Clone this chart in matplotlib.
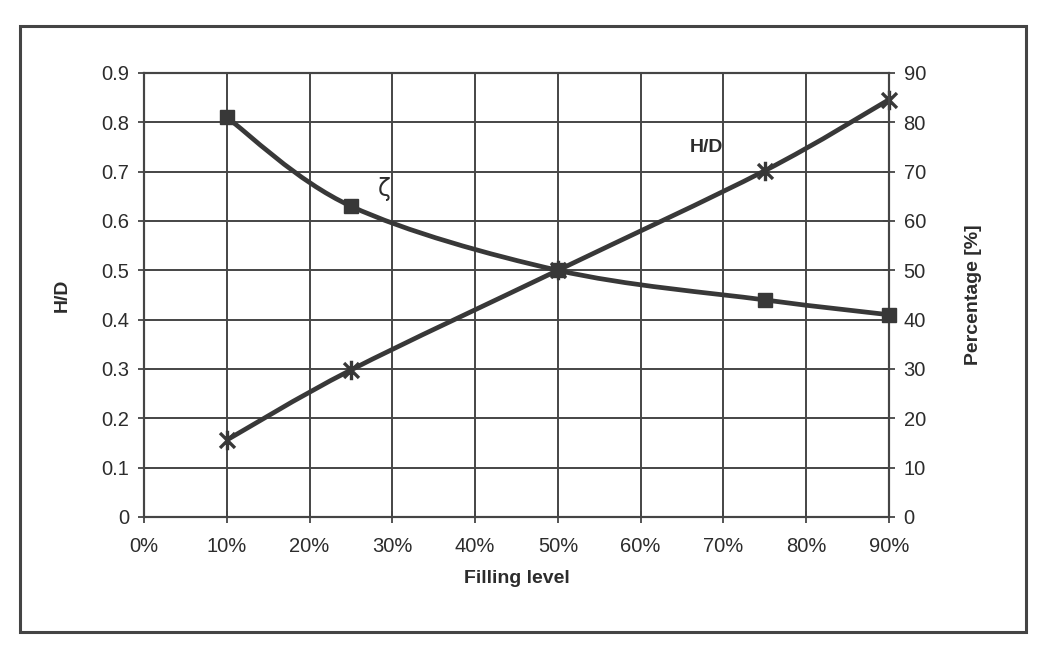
import numpy as np
import matplotlib
matplotlib.use("Agg")
import matplotlib.pyplot as plt
from matplotlib.path import Path
from matplotlib.patches import PathPatch, Rectangle

# ---- data ----
filling_level = [10, 25, 50, 75, 90]          # %
hd_values = [0.156, 0.298, 0.50, 0.702, 0.846]  # H/D (left axis)
zeta_values = [81, 63, 50, 44, 41]              # Percentage [%] (right axis)
x_ticks = [0, 10, 20, 30, 40, 50, 60, 70, 80, 90]
x_ticklabels = [f"{v}%" for v in x_ticks]
left_ticks = [0, 0.1, 0.2, 0.3, 0.4, 0.5, 0.6, 0.7, 0.8, 0.9]
left_ticklabels = ["0", "0.1", "0.2", "0.3", "0.4", "0.5", "0.6", "0.7", "0.8", "0.9"]
right_ticks = [0, 10, 20, 30, 40, 50, 60, 70, 80, 90]

plt.rcParams['font.family'] = ['Liberation Sans', 'DejaVu Sans']

LINE = "#383838"
GRID = "#454545"
TXT = "#2c2c2c"

fig = plt.figure(figsize=(10.38, 6.52), dpi=100)
fig.patch.set_facecolor("white")

# outer chart frame
fig.patches.append(Rectangle((20/1038, 1 - 632/652), (1026-20)/1038, (632-26)/652,
                             transform=fig.transFigure, fill=False,
                             edgecolor="#444444", linewidth=2.2))

ax = fig.add_axes([144/1038, 1 - 517/652, (889-144)/1038, (517-73)/652])
ax2 = ax.twinx()

ax.set_xlim(0, 90)
ax.set_ylim(0, 0.9)
ax2.set_ylim(0, 90)

ax.set_xticks(x_ticks)
ax.set_xticklabels(x_ticklabels)
ax.set_yticks(left_ticks)
ax.set_yticklabels(left_ticklabels)
ax2.set_yticks(right_ticks)

ax.grid(True, color=GRID, linewidth=1.4)
ax.set_axisbelow(True)

for a in (ax, ax2):
    for s in a.spines.values():
        s.set_color(GRID)
        s.set_linewidth(1.5)
    a.tick_params(direction="inout", length=9, width=1.3, color=GRID,
                  labelsize=14.5, labelcolor=TXT)
ax.tick_params(axis="x", pad=10)
ax.tick_params(axis="y", pad=6)
ax2.tick_params(axis="y", pad=6)

ax.set_xlabel("Filling level", fontsize=14, fontweight="bold", color=TXT, labelpad=10)
ax.set_ylabel("H/D", fontsize=14, fontweight="bold", color=TXT, labelpad=22)
ax2.set_ylabel("Percentage [%]", fontsize=14, fontweight="bold", color=TXT, labelpad=28)


def smooth_path(xs, ys):
    P = np.column_stack([xs, ys]).astype(float)
    n = len(P)
    verts = [P[0]]
    codes = [Path.MOVETO]
    for i in range(n - 1):
        p0 = P[i - 1] if i > 0 else P[i]
        p3 = P[i + 2] if i + 2 < n else P[i + 1]
        c1 = P[i] + (P[i + 1] - p0) / 6.0
        c2 = P[i + 1] - (p3 - P[i]) / 6.0
        verts += [c1, c2, P[i + 1]]
        codes += [Path.CURVE4] * 3
    return Path(verts, codes)


# H/D series (left axis)
ax.add_patch(PathPatch(smooth_path(filling_level, hd_values), fill=False,
                       edgecolor=LINE, linewidth=3.4, zorder=3))
star = Path([(-1, -1), (1, 1), (-1, 1), (1, -1), (0, -1.3), (0, 1.3)],
            [Path.MOVETO, Path.LINETO, Path.MOVETO, Path.LINETO, Path.MOVETO, Path.LINETO])
ax.plot(filling_level, hd_values, linestyle="none", marker=star, markersize=14,
        markeredgewidth=2.4, color=LINE, zorder=4, clip_on=False)

# zeta series (right axis)
ax2.add_patch(PathPatch(smooth_path(filling_level, zeta_values), fill=False,
                        edgecolor=LINE, linewidth=3.4, zorder=3))
ax2.plot(filling_level, zeta_values, linestyle="none", marker="s", markersize=10.5,
         color=LINE, zorder=4, clip_on=False)

# series labels
ax.text(29, 0.665, "ζ", fontsize=17, color=TXT, ha="center", va="center",
        family=["DejaVu Sans"])
ax.text(68, 0.75, "H/D", fontsize=14, fontweight="bold", color=TXT,
        ha="center", va="center")

fig.savefig("out.png", dpi=100, facecolor="white")
